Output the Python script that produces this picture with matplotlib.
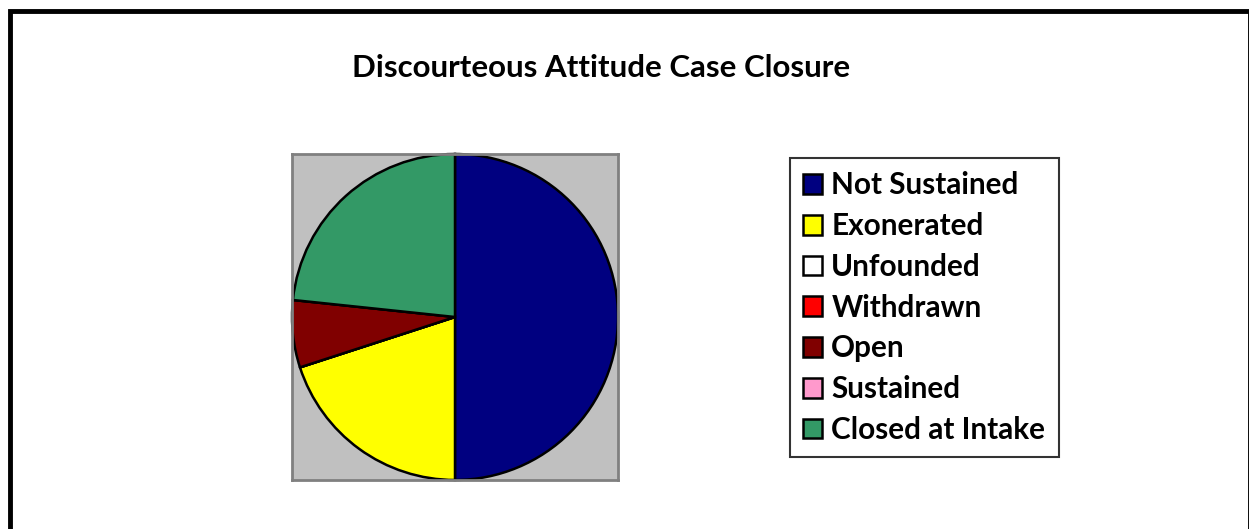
import matplotlib
matplotlib.use("Agg")
import matplotlib.pyplot as plt
from matplotlib.patches import Rectangle

categories = ["Not Sustained", "Exonerated", "Unfounded", "Withdrawn", "Open", "Sustained", "Closed at Intake"]
values = [15, 6, 0, 0, 2, 0, 7]
colors = ["#000080", "#FFFF00", "#FFFFFF", "#FF0000", "#800000", "#FF99CC", "#339966"]
title = "Discourteous Attitude Case Closure"

W, H = 1249, 529
fig = plt.figure(figsize=(W / 100, H / 100), dpi=100)
fig.patch.set_facecolor("white")

def fx(px):
    return px / W

def fy(py):
    return 1 - py / H

# outer chart border (bottom is cut off in the reference)
fig.add_artist(Rectangle((fx(10), fy(560)), fx(1249.5) - fx(10), fy(11) - fy(560),
                         transform=fig.transFigure, fill=False, edgecolor="black", linewidth=3.5))

fig.text(fx(601), fy(68), title, ha="center", va="center", fontsize=22.5,
         fontweight="bold", family=["Lato", "DejaVu Sans"])

ax = fig.add_axes([fx(292), fy(480), fx(618) - fx(292), fy(154) - fy(480)])
ax.set_facecolor("#C0C0C0")
for s in ax.spines.values():
    s.set_edgecolor("#808080")
    s.set_linewidth(2)
wedges, _ = ax.pie(values, colors=colors, startangle=90, counterclock=False, radius=1.0,
                   wedgeprops=dict(edgecolor="black", linewidth=1.8))
ax.set_xlim(-1.0, 1.0)
ax.set_ylim(-1.0, 1.0)
ax.set_aspect("equal")
ax.set_frame_on(True)
ax.set_xticks([])
ax.set_yticks([])

handles = [Rectangle((0, 0), 1, 1, facecolor=c, edgecolor="black", linewidth=1.8) for c in colors]
leg = fig.legend(handles, categories, loc="upper left",
                 bbox_to_anchor=(fx(790), fy(158)),
                 prop=dict(family=["Lato", "DejaVu Sans"], weight="bold", size=21.4),
                 frameon=True, fancybox=False, edgecolor="black",
                 handlelength=0.64, handleheight=0.64, handletextpad=0.3,
                 labelspacing=0.43, borderpad=0.45, borderaxespad=0)
leg.get_frame().set_linewidth(1.5)

fig.savefig("out.png", dpi=100, facecolor="white")
